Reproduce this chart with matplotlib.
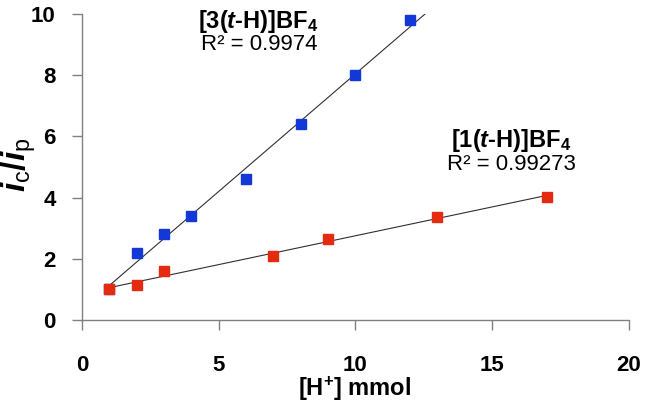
import numpy as np
import matplotlib
matplotlib.use('Agg')
import matplotlib.pyplot as plt

plt.rcParams['font.family'] = ['Liberation Sans', 'DejaVu Sans']
plt.rcParams['mathtext.fontset'] = 'custom'
plt.rcParams['mathtext.rm'] = 'Liberation Sans:bold'
plt.rcParams['mathtext.it'] = 'Liberation Sans:italic:bold'
plt.rcParams['mathtext.bf'] = 'Liberation Sans:bold'
plt.rcParams['mathtext.sf'] = 'Liberation Sans'

# data
x3 = [1, 2, 3, 4, 6, 8, 10, 12]
y3 = [1.0, 2.2, 2.8, 3.4, 4.6, 6.4, 8.0, 9.8]
x1 = [1, 2, 3, 7, 9, 13, 17]
y1 = [1.0, 1.15, 1.6, 2.1, 2.65, 3.35, 4.02]
xticks = [0, 5, 10, 15, 20]
yticks = [0, 2, 4, 6, 8, 10]

blue = '#1438d8'
red = '#e52a12'
grey = '#808080'

fig = plt.figure(figsize=(6.49, 4.07), dpi=100)
ax = fig.add_axes([0.1263, 0.2138, 0.8427, 0.752])

# trend lines
p3 = np.polyfit(x3, y3, 1)
p1 = np.polyfit(x1, y1, 1)
xx3 = np.array([1, 13])
xx1 = np.array([1, 17])
ax.plot(xx3, np.polyval(p3, xx3), color='#303030', lw=0.8, zorder=2)
ax.plot(xx1, np.polyval(p1, xx1), color='#303030', lw=0.8, zorder=2)

ax.plot(x3, y3, 's', color=blue, ms=6.5, mec=blue, zorder=3)
ax.plot(x1, y1, 's', color=red, ms=6.5, mec=red, zorder=4)

ax.set_xlim(0, 20)
ax.set_ylim(0, 10)
ax.set_xticks(xticks)
ax.set_yticks(yticks)
for s in ['top', 'right']:
    ax.spines[s].set_visible(False)
for s in ['left', 'bottom']:
    ax.spines[s].set_color(grey)
    ax.spines[s].set_linewidth(1.0)
ax.tick_params(axis='both', colors=grey, length=7, width=1.0,
               labelsize=16, labelcolor='black')
ax.tick_params(axis='x', pad=18)
ax.tick_params(axis='y', pad=12)
for lab in ax.get_xticklabels() + ax.get_yticklabels():
    lab.set_fontweight('bold')

ax.set_xlabel(r'[H$^{+}$] mmol', fontsize=17, fontweight='bold')
ax.xaxis.set_label_coords(0.499, -0.18)
ax.set_ylabel(r'$i_{\mathsf{c}}/i_{\mathsf{p}}$', fontsize=24)
ax.yaxis.set_label_coords(-0.08, 0.507)

ax.text(6.45, 9.74, r'$\mathrm{[3(}\mathit{t}\text{-}\mathrm{H)]BF}_4$',
        ha='center', va='center', fontsize=17)
ax.text(6.5, 8.99, 'R² = 0.9974', ha='center', va='center', fontsize=16)
ax.text(15.7, 5.88, r'$\mathrm{[1(}\mathit{t}\text{-}\mathrm{H)]BF}_4$',
        ha='center', va='center', fontsize=17)
ax.text(15.7, 5.07, 'R² = 0.99273', ha='center', va='center', fontsize=16)

fig.savefig('out.png', dpi=100)
